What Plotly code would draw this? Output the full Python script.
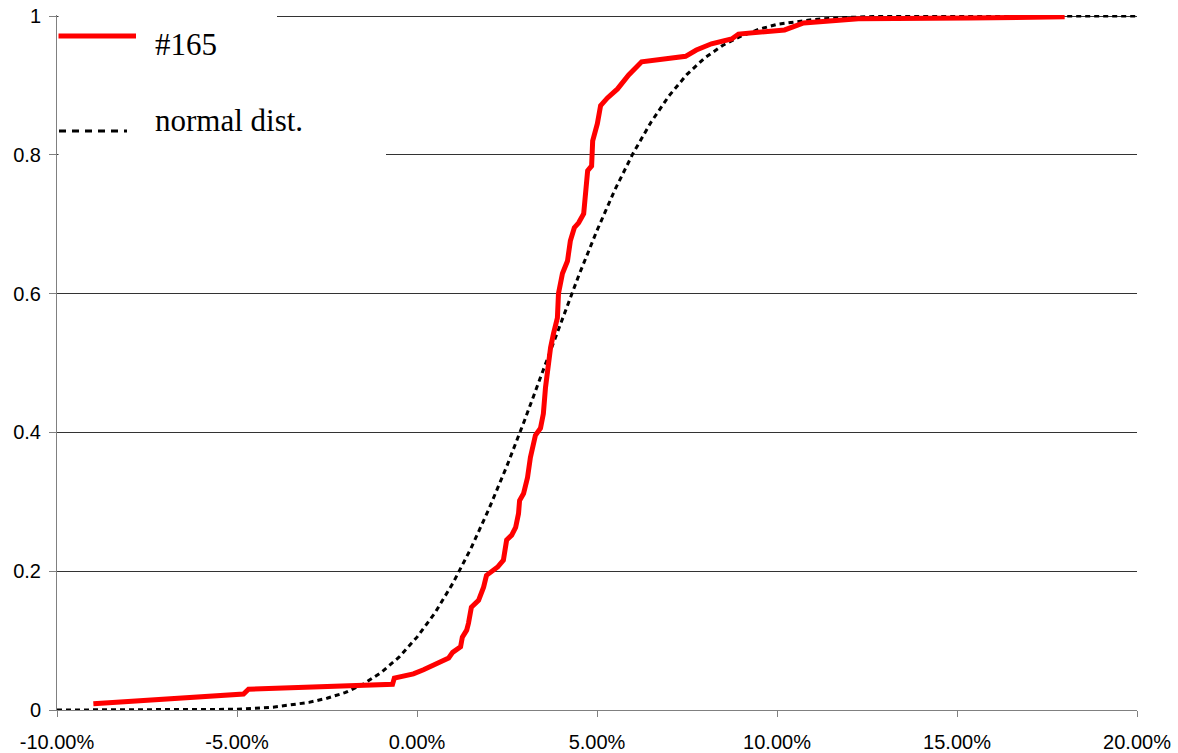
import plotly.graph_objects as go

# ---- data (x in percent, y cumulative probability) ----
red_x = [-8.99, -4.82, -4.68, -0.68, -0.63, -0.10, 0.18, 0.57, 0.88, 0.99, 1.21, 1.26, 1.38, 1.43,
         1.51, 1.71, 1.85, 1.93, 2.13, 2.24, 2.40, 2.49, 2.63, 2.74, 2.82, 2.85, 2.96, 3.07, 3.15,
         3.29, 3.43, 3.51, 3.57, 3.63, 3.71, 3.79, 3.90, 3.93, 3.96, 4.04, 4.18, 4.26, 4.37, 4.49,
         4.63, 4.68, 4.74, 4.85, 4.88, 5.01, 5.10, 5.29, 5.57, 5.88, 6.24, 7.46, 7.76, 8.18, 8.74,
         8.93, 10.21, 10.74, 12.26, 15.35, 17.99]
red_y = [0.009, 0.023, 0.030, 0.037, 0.046, 0.052, 0.058, 0.068, 0.075, 0.083, 0.091, 0.105, 0.115,
         0.125, 0.148, 0.158, 0.177, 0.194, 0.201, 0.206, 0.216, 0.245, 0.252, 0.263, 0.283, 0.302,
         0.312, 0.335, 0.364, 0.396, 0.406, 0.427, 0.465, 0.494, 0.522, 0.542, 0.565, 0.600, 0.609,
         0.629, 0.647, 0.676, 0.695, 0.702, 0.715, 0.753, 0.777, 0.784, 0.820, 0.845, 0.871, 0.882,
         0.895, 0.915, 0.934, 0.942, 0.951, 0.960, 0.967, 0.974, 0.980, 0.990, 0.996, 0.997, 0.999]

norm_x = [-10, -8, -6, -5, -4, -3, -2.5, -2, -1.5, -1, -0.5, 0, 0.5, 1, 1.5, 2, 2.5, 3, 3.5, 4,
          4.5, 5, 5.5, 6, 6.5, 7, 7.5, 8, 8.5, 9, 9.5, 10, 11, 12, 13, 14, 16, 18, 20]
norm_y = [0.000, 0.000, 0.000, 0.001, 0.004, 0.011, 0.017, 0.025, 0.037, 0.054, 0.076, 0.105, 0.140,
          0.183, 0.233, 0.290, 0.352, 0.419, 0.489, 0.559, 0.627, 0.691, 0.750, 0.802, 0.847, 0.885,
          0.916, 0.940, 0.958, 0.971, 0.981, 0.988, 0.995, 0.998, 1.000, 1.000, 1.000, 1.000, 1.000]

x_tickvals = [-10, -5, 0, 5, 10, 15, 20]
x_ticktext = ["-10.00%", "-5.00%", "0.00%", "5.00%", "10.00%", "15.00%", "20.00%"]
y_tickvals = [0, 0.2, 0.4, 0.6, 0.8, 1]
y_ticktext = ["0", "0.2", "0.4", "0.6", "0.8", "1"]

series_names = ["#165", "normal dist."]

SANS = "Liberation Sans, Arial, sans-serif"
SERIF = "Liberation Serif, Times New Roman, serif"

fig = go.Figure()
fig.add_trace(go.Scatter(x=norm_x, y=norm_y, mode="lines", name=series_names[1],
                         line=dict(color="black", width=3, dash="5px,4px"),
                         showlegend=False, hoverinfo="skip"))
fig.add_trace(go.Scatter(x=red_x, y=red_y, mode="lines", name=series_names[0],
                         line=dict(color="#ff0000", width=5),
                         showlegend=False, hoverinfo="skip"))

W, H = 1178, 753
L, R, T, B = 57, 41, 15, 43
pw, ph = W - L - R, H - T - B


def px(x):
    return (x - L) / pw


def py(y):
    return (H - B - y) / ph


shapes = [
    # white legend background patches hiding gridlines
    dict(type="rect", xref="paper", yref="paper", x0=px(58.5), x1=px(277), y0=py(40), y1=py(12),
         fillcolor="white", line=dict(width=0), layer="above"),
    dict(type="rect", xref="paper", yref="paper", x0=px(58.5), x1=px(386), y0=py(160), y1=py(146),
         fillcolor="white", line=dict(width=0), layer="above"),
    # legend samples
    dict(type="line", xref="paper", yref="paper", x0=px(58.5), x1=px(136), y0=py(36), y1=py(36),
         line=dict(color="#ff0000", width=5), layer="above"),
    dict(type="line", xref="paper", yref="paper", x0=px(59), x1=px(127), y0=py(131), y1=py(131),
         line=dict(color="black", width=3, dash="7px,6px"), layer="above"),
]

annotations = [
    dict(text=series_names[0], xref="paper", yref="paper", x=px(153), y=py(44),
         xanchor="left", yanchor="middle", showarrow=False,
         font=dict(family=SERIF, size=31, color="black")),
    dict(text=series_names[1], xref="paper", yref="paper", x=px(153), y=py(121),
         xanchor="left", yanchor="middle", showarrow=False,
         font=dict(family=SERIF, size=31, color="black")),
]

fig.update_layout(
    template="none",
    width=W, height=H,
    margin=dict(l=L, r=R, t=T, b=B, pad=0, autoexpand=False),
    paper_bgcolor="white", plot_bgcolor="white",
    showlegend=False,
    shapes=shapes, annotations=annotations,
    font=dict(family=SANS, size=20, color="black"),
    xaxis=dict(range=[-10, 20], tickvals=x_tickvals, ticktext=x_ticktext, automargin=False,
               showgrid=False, zeroline=False, showline=True, linecolor="#808080", linewidth=1,
               ticks="outside", ticklen=6, tickcolor="#808080", tickwidth=1,
               ticklabelstandoff=8,
               tickfont=dict(family=SANS, size=20, color="black")),
    yaxis=dict(range=[0, 1.0015], tickvals=y_tickvals, ticktext=y_ticktext, automargin=False,
               showgrid=True, gridcolor="#333333", gridwidth=1, zeroline=False,
               showline=True, linecolor="#808080", linewidth=1,
               ticks="outside", ticklen=7, tickcolor="#808080", tickwidth=1,
               ticklabelstandoff=4,
               tickfont=dict(family=SANS, size=20, color="black")),
)

fig.write_html(
    "out.html",
    config={"displayModeBar": False, "staticPlot": True},
    post_script="document.body.style.margin='0px';document.body.style.overflow='hidden';",
)
